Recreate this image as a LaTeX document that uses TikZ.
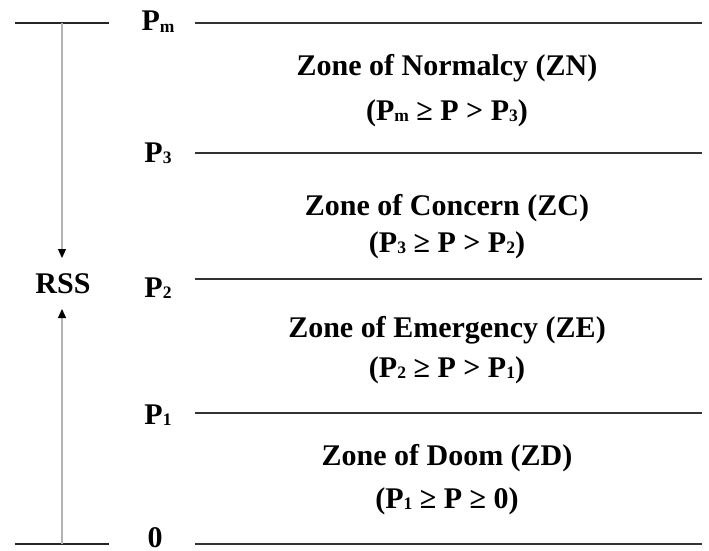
\documentclass[tikz,border=0pt]{standalone}
\usepackage{fontspec}
\setmainfont{Liberation Serif}
\usetikzlibrary{arrows.meta}
\newcommand{\sbx}[1]{\raisebox{-0.05em}{\fontsize{17.5}{17.5}\selectfont #1}}
\begin{document}
\begin{tikzpicture}[x=1pt,y=-1pt,
  lvl/.style={draw=black!80,line width=2pt},
  rssline/.style={draw=black!30,line width=1.3pt},
  txt/.style={anchor=base,inner sep=0pt,font=\fontsize{30}{36}\selectfont\bfseries},
  plab/.style={anchor=base,inner sep=0pt,font=\fontsize{30}{36}\selectfont\bfseries}]
\useasboundingbox (0,0) rectangle (709,551);
% level line end points
\coordinate (Lm) at (195,23);  \coordinate (Rm) at (702,23);
\coordinate (L3) at (195,153); \coordinate (R3) at (702,153);
\coordinate (L2) at (195,279); \coordinate (R2) at (702,279);
\coordinate (L1) at (195,413); \coordinate (R1) at (702,413);
\coordinate (L0) at (195,544); \coordinate (R0) at (702,544);
\draw[lvl] (Lm) -- (Rm);
\draw[lvl] (L3) -- (R3);
\draw[lvl] (L2) -- (R2);
\draw[lvl] (L1) -- (R1);
\draw[lvl] (L0) -- (R0);
% left bars
\coordinate (TL) at (15,23);  \coordinate (TR) at (109,23);
\coordinate (BL) at (15,544); \coordinate (BR) at (109,544);
\draw[lvl,draw=black!85] (TL) -- (TR);
\draw[lvl,draw=black!85] (BL) -- (BR);
% RSS
\node[txt] (rss) at (63,293) {RSS};
\coordinate (top) at (62,23);
\coordinate (bot) at (62,544);
\coordinate (tipd) at (62,258);
\coordinate (tipu) at (62,309);
\draw[rssline,-{Triangle[length=9pt,width=8pt,color=black]}] (top) -- (tipd);
\draw[rssline,-{Triangle[length=9pt,width=8pt,color=black]}] (bot) -- (tipu);
% level labels
\node[plab] (pm) at (158,31) {P\sbx{m}};
\node[plab] (p3) at (158,162) {P\sbx{3}};
\node[plab] (p2) at (158,297) {P\sbx{2}};
\node[plab] (p1) at (158,424) {P\sbx{1}};
\node[plab] (p0) at (155,547) {0};
% zone texts
\node[txt] (zn1) at (447,75) {Zone of Normalcy (ZN)};
\node[txt] (zn2) at (447,120) {(P\sbx{m} ≥ P > P\sbx{3})};
\node[txt] (zc1) at (447,215) {Zone of Concern (ZC)};
\node[txt] (zc2) at (447,252) {(P\sbx{3} ≥ P > P\sbx{2})};
\node[txt] (ze1) at (447,337) {Zone of Emergency (ZE)};
\node[txt] (ze2) at (447,377) {(P\sbx{2} ≥ P > P\sbx{1})};
\node[txt] (zd1) at (447,465) {Zone of Doom (ZD)};
\node[txt] (zd2) at (447,508) {(P\sbx{1} ≥ P ≥ 0)};
\end{tikzpicture}
\end{document}
